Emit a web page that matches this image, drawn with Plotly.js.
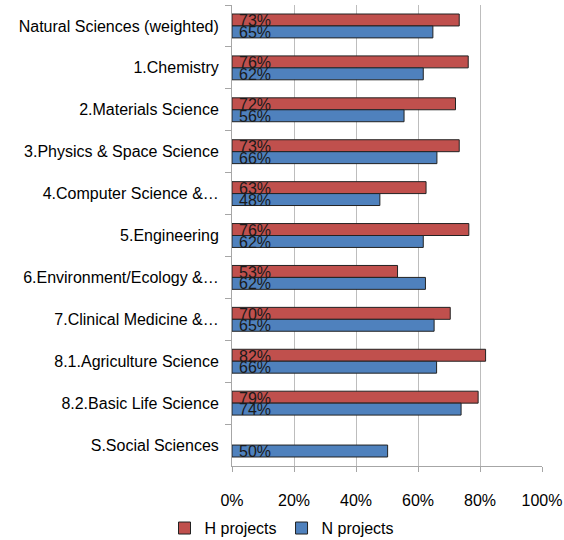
<!DOCTYPE html>
<html>
<head>
<meta charset="utf-8">
<script src="https://cdn.plot.ly/plotly-3.0.1.min.js"></script>
<style>html,body{margin:0;padding:0;background:#fff;}#chart{width:564px;height:540px;}</style>
</head>
<body>
<div id="chart"></div>
<script>
const categories = [
  "Natural Sciences (weighted)",
  "1.Chemistry",
  "2.Materials Science",
  "3.Physics & Space Science",
  "4.Computer Science &\u2026",
  "5.Engineering",
  "6.Environment/Ecology &\u2026",
  "7.Clinical Medicine &\u2026",
  "8.1.Agriculture Science",
  "8.2.Basic Life Science",
  "S.Social Sciences"
];
const hProjects = [0.733, 0.762, 0.721, 0.733, 0.626, 0.764, 0.534, 0.704, 0.818, 0.794, null];
const nProjects = [0.648, 0.617, 0.555, 0.661, 0.477, 0.617, 0.624, 0.652, 0.660, 0.739, 0.502];
const xTicks = [0, 0.2, 0.4, 0.6, 0.8, 1.0];
const xTickLabels = ["0%", "20%", "40%", "60%", "80%", "100%"];

const FONT = "Liberation Sans, Arial, sans-serif";
function pct(v) { return Math.round(v * 100) + "%"; }

const traces = [
  {
    type: "bar", orientation: "h", name: "H projects",
    y: categories, x: hProjects, hoverinfo: "skip",
    marker: {color: "#C0504D", line: {color: "#222", width: 1}}
  },
  {
    type: "bar", orientation: "h", name: "N projects",
    y: categories, x: nProjects, hoverinfo: "skip",
    marker: {color: "#4F81BD", line: {color: "#222", width: 1}}
  }
];

const annotations = [];
function addLabels(values, yshift) {
  values.forEach((v, i) => {
    if (v == null) return;
    annotations.push({
      x: 0, y: categories[i], xref: "x", yref: "y",
      text: pct(v), showarrow: false,
      xanchor: "left", yanchor: "middle",
      xshift: 5, yshift: yshift,
      font: {family: FONT, size: 16, color: "#1a1a1a"}
    });
  });
}
addLabels(hProjects, 5);
addLabels(nProjects, -6.5);

const layout = {
  width: 564,
  height: 540,
  margin: {l: 232, r: 22, t: 5, b: 74},
  paper_bgcolor: "#fff",
  plot_bgcolor: "#fff",
  barmode: "group",
  bargap: 0.43,
  bargroupgap: 0,
  font: {family: FONT, size: 16, color: "#000"},
  annotations: annotations,
  xaxis: {
    range: [0, 1],
    tickvals: xTicks,
    ticktext: xTickLabels,
    showgrid: true,
    gridcolor: "#BDBDBD",
    gridwidth: 1,
    showline: true,
    linecolor: "#A6A6A6",
    linewidth: 1,
    ticks: "outside",
    ticklen: 5,
    tickcolor: "#A6A6A6",
    ticklabelstandoff: 15,
    zeroline: false,
    tickfont: {family: FONT, size: 16, color: "#000"},
    fixedrange: true
  },
  yaxis: {
    type: "category",
    autorange: "reversed",
    showgrid: false,
    showline: true,
    linecolor: "#A6A6A6",
    linewidth: 1,
    ticks: "outside",
    tickson: "boundaries",
    ticklen: 6,
    tickcolor: "#A6A6A6",
    ticklabelstandoff: 9,
    tickfont: {family: FONT, size: 16, color: "#000"},
    fixedrange: true
  },
  legend: {
    orientation: "h",
    xref: "container",
    yref: "container",
    x: 0.5,
    xanchor: "center",
    y: 0.022,
    yanchor: "middle",
    font: {family: FONT, size: 16, color: "#000"},
    itemwidth: 30,
    traceorder: "normal"
  },
  showlegend: true
};

Plotly.newPlot("chart", traces, layout, {displayModeBar: false, staticPlot: true});
</script>
</body>
</html>
